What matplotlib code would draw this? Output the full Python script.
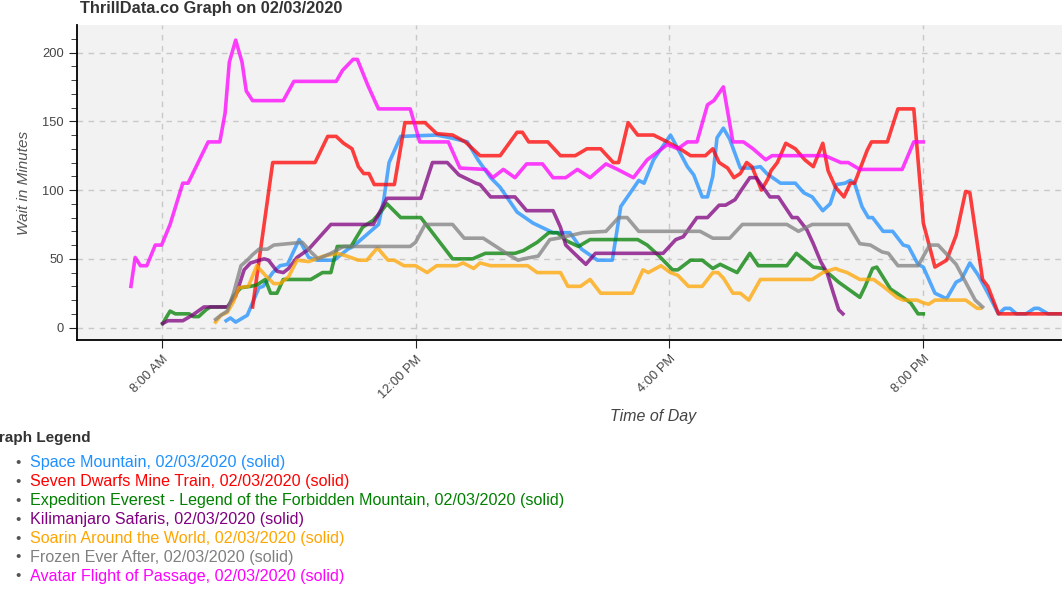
import matplotlib
matplotlib.use("Agg")
import matplotlib.pyplot as plt
import matplotlib.dates as mdates
import pandas as pd

plt.rcParams['font.family'] = ['Liberation Sans', 'DejaVu Sans']

DAY = "2020-02-03 "

space_times = ["9:01", "9:05", "9:10", "9:21", "9:27", "9:32", "9:36", "9:45", "9:52", "9:59",
               "10:10", "10:19", "10:27", "10:43", "10:56", "11:01", "11:25", "11:30", "11:35", "11:46",
               "12:20", "12:33", "12:49", "12:59", "13:11", "13:20", "13:36", "13:51", "14:10", "14:26",
               "14:37", "14:52", "15:06", "15:14", "15:23", "15:31", "15:36", "15:45", "16:01", "16:08",
               "16:17", "16:23", "16:31", "16:36", "16:41", "16:45", "16:51", "16:57", "17:07", "17:18",
               "17:26", "17:32", "17:45", "17:59", "18:07", "18:15", "18:25", "18:32", "18:38", "18:46",
               "18:51", "18:55", "19:02", "19:08", "19:12", "19:22", "19:31", "19:41", "19:46", "19:55",
               "20:00", "20:11", "20:22", "20:31", "20:36", "20:44", "20:52", "21:01", "21:11", "21:17",
               "21:22", "21:28", "21:37", "21:45", "21:49", "21:58", "22:15"]
space_waits = [5, 7, 4, 9, 20, 29, 30, 40, 45, 46,
               64, 51, 49, 49, 57, 59, 75, 93, 120, 139,
               140, 138, 135, 122, 109, 102, 84, 76, 69, 69,
               57, 49, 49, 88, 98, 107, 105, 122, 140, 130,
               117, 111, 95, 95, 110, 138, 145, 137, 116, 116,
               117, 112, 105, 105, 98, 95, 85, 90, 104, 105,
               107, 105, 88, 80, 80, 70, 70, 60, 59, 46,
               44, 25, 21, 33, 35, 47, 38, 25, 10, 14,
               14, 10, 10, 14, 14, 10, 10]

dwarfs_times = ["9:26", "9:45", "10:25", "10:37", "10:45", "10:52", "11:00", "11:06", "11:11", "11:16",
                "11:21", "11:40", "11:50", "12:09", "12:20", "12:35", "12:47", "13:01", "13:20", "13:36",
                "13:41", "13:47", "14:05", "14:17", "14:31", "14:42", "14:55", "15:07", "15:12", "15:21",
                "15:30", "15:45", "15:58", "16:10", "16:20", "16:34", "16:41", "16:47", "16:55", "17:01",
                "17:07", "17:13", "17:18", "17:27", "17:33", "17:36", "17:42", "17:50", "17:59", "18:08",
                "18:16", "18:25", "18:30", "18:37", "18:45", "18:51", "18:55", "19:07", "19:11", "19:26",
                "19:36", "19:51", "20:00", "20:11", "20:22", "20:31", "20:40", "20:44", "20:56", "21:01",
                "21:11", "22:15"]
dwarfs_waits = [15, 120, 120, 139, 139, 134, 130, 117, 112, 112,
                104, 104, 149, 149, 141, 140, 135, 125, 125, 142,
                142, 135, 135, 125, 125, 130, 130, 120, 120, 149,
                140, 140, 135, 130, 125, 125, 130, 120, 116, 109,
                112, 120, 117, 100, 108, 114, 120, 134, 130, 122,
                117, 134, 114, 102, 95, 105, 105, 129, 135, 135,
                159, 159, 76, 44, 49, 67, 99, 98, 35, 30,
                10, 10]

everest_times = ["8:01", "8:08", "8:13", "8:26", "8:30", "8:35", "8:42", "8:46", "9:03", "9:08",
                 "9:15", "9:24", "9:30", "9:38", "9:43", "9:49", "9:55", "10:21", "10:32", "10:40",
                 "10:46", "10:59", "11:10", "11:20", "11:27", "11:33", "11:46", "12:05", "12:35", "12:54",
                 "13:06", "13:34", "13:42", "13:55", "14:06", "14:14", "14:23", "14:34", "14:45", "15:30",
                 "15:39", "15:49", "16:03", "16:08", "16:20", "16:31", "16:41", "16:48", "17:04", "17:16",
                 "17:24", "17:51", "18:00", "18:16", "18:25", "18:40", "19:00", "19:05", "19:12", "19:16",
                 "19:29", "19:35", "19:48", "19:55", "20:00"]
everest_waits = [3, 12, 10, 10, 8, 8, 13, 15, 15, 23,
                 29, 30, 31, 35, 25, 25, 35, 35, 40, 40,
                 59, 59, 73, 78, 84, 90, 80, 80, 50, 50,
                 54, 54, 56, 62, 69, 69, 63, 59, 64, 64,
                 60, 53, 42, 42, 49, 49, 43, 46, 40, 54,
                 45, 45, 54, 44, 43, 33, 22, 30, 43, 44,
                 28, 25, 18, 10, 10]

safari_times = ["8:01", "8:06", "8:20", "8:29", "8:40", "9:02", "9:10", "9:18", "9:24", "9:37",
                "9:41", "9:49", "9:55", "10:00", "10:08", "10:19", "10:40", "11:20", "11:33", "12:05",
                "12:16", "12:30", "12:41", "12:57", "13:01", "13:11", "13:34", "13:45", "14:10", "14:17",
                "14:22", "14:30", "14:41", "14:50", "15:54", "16:06", "16:13", "16:26", "16:36", "16:47",
                "16:53", "17:02", "17:08", "17:16", "17:22", "17:35", "17:43", "17:56", "18:01", "18:10",
                "18:16", "18:23", "18:29", "18:35", "18:40", "18:44"]
safari_waits = [3, 5, 5, 9, 15, 15, 23, 42, 47, 50,
                49, 41, 40, 43, 51, 57, 75, 75, 94, 94,
                120, 120, 111, 105, 104, 95, 95, 85, 85, 73,
                60, 54, 46, 54, 54, 64, 66, 80, 80, 89,
                89, 93, 100, 109, 109, 95, 95, 80, 80, 71,
                61, 48, 40, 25, 13, 10]

soarin_times = ["8:51", "8:56", "9:02", "9:08", "9:13", "9:22", "9:30", "9:38", "9:46", "9:52",
                "10:00", "10:08", "10:19", "10:33", "10:46", "10:55", "11:06", "11:14", "11:24", "11:34",
                "11:40", "11:49", "12:00", "12:11", "12:20", "12:39", "12:45", "12:55", "13:01", "13:11",
                "13:46", "13:55", "14:17", "14:24", "14:36", "14:45", "14:55", "15:25", "15:35", "15:40",
                "15:52", "16:01", "16:08", "16:18", "16:31", "16:41", "16:46", "16:51", "17:00", "17:07",
                "17:15", "17:26", "18:15", "18:25", "18:37", "18:40", "18:48", "19:00", "19:13", "19:22",
                "19:35", "19:41", "19:54", "20:00", "20:05", "20:11", "20:40", "20:51", "20:54"]
soarin_waits = [4, 9, 11, 19, 29, 30, 45, 38, 32, 32,
                37, 49, 48, 52, 54, 52, 49, 49, 58, 49,
                49, 45, 45, 40, 45, 45, 47, 43, 47, 45,
                45, 40, 40, 30, 30, 35, 25, 25, 42, 40,
                45, 40, 38, 30, 30, 40, 40, 36, 25, 25,
                20, 35, 35, 40, 43, 42, 40, 35, 35, 30,
                22, 20, 20, 18, 17, 20, 20, 14, 14]

frozen_times = ["8:51", "8:56", "9:02", "9:08", "9:15", "9:21", "9:26", "9:32", "9:40", "9:46",
                "10:13", "10:21", "10:28", "10:40", "10:52", "11:55", "12:00", "12:09", "12:35", "12:46",
                "13:04", "13:16", "13:30", "13:37", "13:42", "13:56", "14:07", "14:15", "14:38", "15:00",
                "15:12", "15:20", "15:31", "16:29", "16:41", "16:57", "17:09", "17:51", "18:02", "18:15",
                "18:49", "19:00", "19:10", "19:21", "19:27", "19:36", "19:55", "20:06", "20:14", "20:31",
                "20:40", "20:49", "20:56"]
frozen_waits = [6, 9, 12, 25, 45, 49, 53, 57, 57, 60,
                62, 55, 50, 54, 59, 59, 62, 75, 75, 65,
                65, 59, 52, 49, 50, 52, 64, 65, 69, 70,
                80, 80, 70, 70, 65, 65, 75, 75, 70, 75,
                75, 61, 60, 55, 54, 45, 45, 60, 60, 46,
                33, 20, 15]

avatar_times = ["7:31", "7:35", "7:40", "7:46", "7:54", "8:00", "8:08", "8:20", "8:25", "8:44",
                "8:55", "9:00", "9:04", "9:10", "9:16", "9:20", "9:26", "9:55", "10:05", "10:45",
                "10:51", "11:01", "11:05", "11:15", "11:25", "11:55", "12:04", "12:31", "12:42", "13:06",
                "13:13", "13:23", "13:34", "13:45", "14:00", "14:10", "14:22", "14:33", "14:45", "15:00",
                "15:11", "15:26", "15:39", "15:58", "16:08", "16:17", "16:26", "16:36", "16:42", "16:51",
                "17:00", "17:10", "17:19", "17:31", "17:37", "18:27", "18:42", "18:49", "19:00", "19:40",
                "19:51", "20:00"]
avatar_waits = [30, 51, 45, 45, 60, 60, 75, 105, 105, 135,
                135, 156, 193, 209, 193, 172, 165, 165, 179, 179,
                187, 195, 195, 176, 159, 159, 135, 135, 116, 115,
                109, 115, 109, 119, 119, 109, 109, 115, 109, 119,
                115, 109, 122, 133, 130, 135, 135, 162, 165, 175,
                135, 135, 130, 122, 125, 125, 120, 120, 115, 115,
                135, 135]

rides = ["Space Mountain", "Seven Dwarfs Mine Train",
         "Expedition Everest - Legend of the Forbidden Mountain", "Kilimanjaro Safaris",
         "Soarin Around the World", "Frozen Ever After", "Avatar Flight of Passage"]
series = [(space_times, space_waits), (dwarfs_times, dwarfs_waits),
          (everest_times, everest_waits), (safari_times, safari_waits),
          (soarin_times, soarin_waits), (frozen_times, frozen_waits),
          (avatar_times, avatar_waits)]
colors = ["#1e90ff", "#ff0000", "#008000", "#800080", "#ffa500", "#808080", "#ff00ff"]

fig = plt.figure(figsize=(10.62, 5.95), dpi=100)
# the original axes runs past the right edge of the picture
ax = fig.add_axes([0.0725, 0.4286, 1.085, 0.5294])
ax.set_facecolor("#f2f2f2")

for (t, w), c in zip(series, colors):
    if len(t) != len(w):
        raise ValueError("length mismatch")
    x = pd.to_datetime([DAY + s for s in t])
    ax.plot(x, w, color=c, lw=2.6, alpha=0.75, solid_joinstyle="round")

ax.set_xlim(pd.Timestamp(DAY + "06:40"), pd.Timestamp(DAY + "00:00") + pd.Timedelta(hours=24.82))
ax.set_ylim(-9, 220)
ax.set_yticks([0, 50, 100, 150, 200])
ax.set_yticks(range(0, 220, 10), minor=True)
ax.xaxis.set_major_locator(mdates.HourLocator(byhour=[8, 12, 16, 20]))
ax.xaxis.set_major_formatter(mdates.DateFormatter("%-I:%M %p"))
ax.grid(True, which="major", color="#c8c8c8", linestyle=(0, (4, 4)), lw=1)
ax.set_axisbelow(True)
for s in ["top", "right"]:
    ax.spines[s].set_visible(False)
ax.spines["left"].set_linewidth(1.3)
ax.spines["bottom"].set_linewidth(1.3)
ax.tick_params(axis="both", which="major", length=6, labelsize=9.3, colors="#222", labelcolor="#444")
ax.tick_params(axis="y", which="minor", length=4, color="#222")
plt.setp(ax.get_xticklabels(), rotation=45, ha="right", rotation_mode="anchor")

ax.set_ylabel("Wait in Minutes", fontstyle="italic", fontsize=11, color="#555", labelpad=8)
ax.set_xlabel("Time of Day", fontstyle="italic", fontsize=11.5, color="#444", labelpad=6)
fig.text(0.0755, 0.985, "ThrillData.co Graph on 02/03/2020", fontsize=11.8, fontweight="bold",
         color="#333", va="center")

# HTML style legend below the chart
fig.text(-0.0125, 1 - 438 / 595, "Graph Legend", fontsize=11, fontweight="bold",
         color="#333", va="center")
for i, (name, c) in enumerate(zip(rides, colors)):
    yy = 1 - (463 + i * 18.9) / 595
    fig.text(0.017, yy, "\u2022", fontsize=11, color="#555", va="center", ha="center")
    fig.text(0.0283, yy, name + ", 02/03/2020 (solid)", fontsize=11.6, color=c, va="center")

fig.savefig("out.png", dpi=100)
